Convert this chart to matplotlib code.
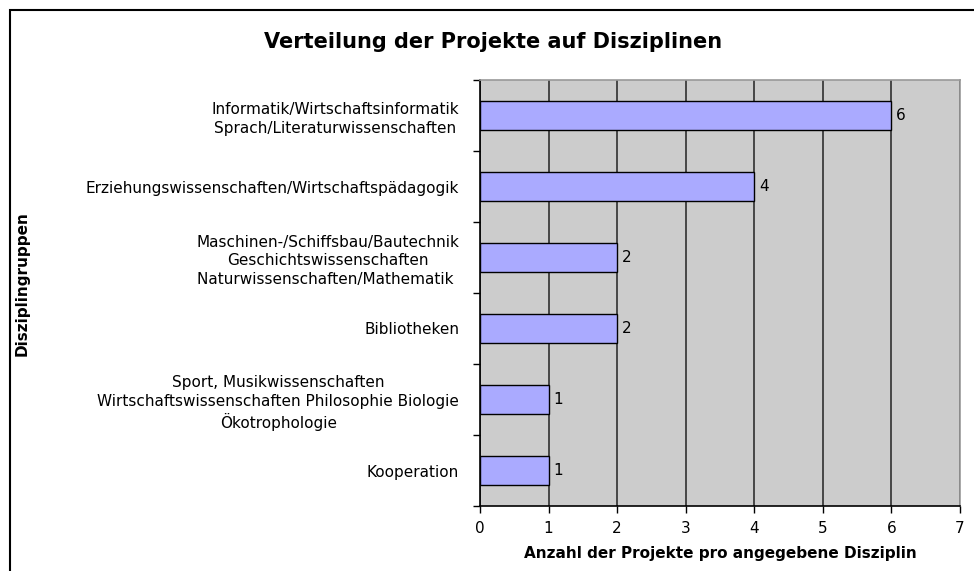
import numpy as np
from matplotlib import pyplot as plt
from matplotlib.patches import Rectangle

# categories from top to bottom, as shown in the chart
categories = [
    'Informatik/Wirtschaftsinformatik\nSprach/Literaturwissenschaften',
    'Erziehungswissenschaften/Wirtschaftspädagogik',
    'Maschinen-/Schiffsbau/Bautechnik\nGeschichtswissenschaften\nNaturwissenschaften/Mathematik ',
    'Bibliotheken',
    'Sport, Musikwissenschaften\nWirtschaftswissenschaften Philosophie Biologie\nÖkotrophologie',
    'Kooperation',
]
counts = [6, 4, 2, 2, 1, 1]
xticks = [0, 1, 2, 3, 4, 5, 6, 7]

plt.rcParams['font.family'] = ['DejaVu Sans']
fs = 11

fig = plt.figure(figsize=(9.74, 5.71), dpi=100)
ax = fig.add_axes([480/974, 1 - 506/571, 480/974, 426/571])
ax.set_facecolor('#cccccc')

ypos = np.arange(len(categories))[::-1]
ax.barh(ypos, counts, height=0.4, color='#aaaaff', edgecolor='black', linewidth=1.0, zorder=3)
for y, c in zip(ypos, counts):
    ax.text(c + 0.07, y, str(c), va='center', ha='left', fontsize=fs, zorder=4)

ax.set_xlim(0, 7)
ax.set_ylim(-0.5, len(categories) - 0.5)
ax.set_xticks(xticks)
ax.tick_params(axis='x', direction='out', length=5, width=1, labelsize=fs, pad=6)
ax.grid(axis='x', color='#222222', linewidth=1.1, zorder=1)

# category labels at centres, ticks at band boundaries
ax.set_yticks(ypos)
ax.set_yticklabels(categories, fontsize=fs, multialignment='center', linespacing=1.3)
ax.tick_params(axis='y', which='major', length=0, pad=15)
ax.set_yticks(np.arange(-0.5, len(categories)), minor=True)
ax.tick_params(axis='y', which='minor', direction='out', length=5, width=1)

for side in ['left', 'bottom']:
    ax.spines[side].set_color('black')
    ax.spines[side].set_linewidth(1.2)
for side in ['top', 'right']:
    ax.spines[side].set_color('#999999')
    ax.spines[side].set_linewidth(1.2)

ax.set_xlabel('Anzahl der Projekte pro angegebene Disziplin', fontsize=fs, fontweight='bold', labelpad=7)
fig.text(22/974, 1 - 284/571, 'Disziplingruppen', rotation=90, va='center', ha='center',
         fontsize=fs, fontweight='bold')
fig.text(493/974, 1 - 42/571, 'Verteilung der Projekte auf Disziplinen', ha='center', va='center',
         fontsize=15, fontweight='bold')

# outer chart border (cut off at right and bottom)
fig.patches.append(Rectangle((10/974, -0.05), 1.1, 1.05 - 10/571, transform=fig.transFigure,
                             fill=False, edgecolor='black', linewidth=1.5))

fig.savefig('out.png', dpi=100)
